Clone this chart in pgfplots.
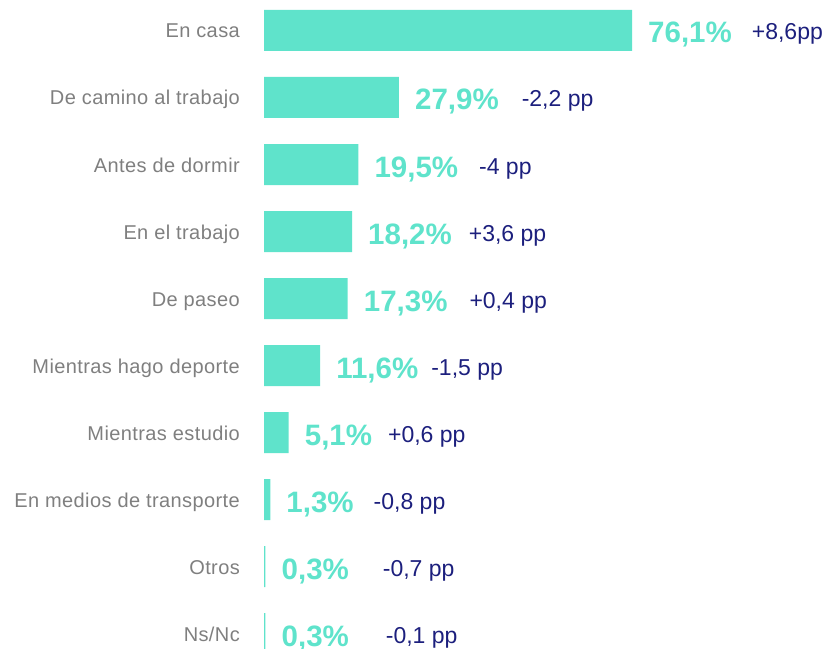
\documentclass[border=0pt]{standalone}
\usepackage{fontspec}
\setmainfont{Liberation Sans}
\usepackage{pgfplots}
\pgfplotsset{compat=1.18}
\usepackage{pgfplotstable}
\definecolor{barc}{HTML}{5FE3CB}
\definecolor{navy}{HTML}{1C1F7D}
\definecolor{lab}{HTML}{7F7F7F}
\protected\def\lbl#1#2#3{{\fontsize{29.5bp}{32bp}\selectfont\bfseries\color{barc}#1\%}\hspace{#3bp}\raisebox{3bp}{\fontsize{23bp}{24bp}\selectfont\color{navy}#2}}
\pgfplotstableread[col sep=semicolon]{
y;x;lab
0;76.1;\lbl{76,1}{+8,6pp}{20}
1;27.9;\lbl{27,9}{-2,2 pp}{23}
2;19.5;\lbl{19,5}{-4 pp}{21}
3;18.2;\lbl{18,2}{+3,6 pp}{17}
4;17.3;\lbl{17,3}{+0,4 pp}{22}
5;11.6;\lbl{11,6}{-1,5 pp}{13}
6;5.1;\lbl{5,1}{+0,6 pp}{16}
7;1.3;\lbl{1,3}{-0,8 pp}{20}
8;0.3;\lbl{0,3}{-0,7 pp}{34}
9;0.3;\lbl{0,3}{-0,1 pp}{37}
}\data
\begin{document}
\begin{tikzpicture}
\useasboundingbox (0,0) rectangle (829bp,649bp);
\begin{axis}[
  at={(264bp,0)}, anchor=south west,
  scale only axis, width=565bp, height=649bp,
  xmin=0, xmax=116.83,
  ymin=-0.455, ymax=9.231, y dir=reverse,
  xbar, bar width=41bp,
  axis line style={draw=none}, tick style={draw=none},
  major tick length=0pt,
  xtick=\empty,
  ytick={0,...,9},
  yticklabels={En casa, De camino al trabajo, Antes de dormir, En el trabajo, De paseo, Mientras hago deporte, Mientras estudio, En medios de transporte, Otros, Ns/Nc},
  yticklabel style={font=\fontsize{20bp}{24bp}\selectfont\addfontfeature{LetterSpace=2}, text=lab, anchor=base east, inner sep=0pt, xshift=-24bp, yshift=-7.5bp},
  clip=false,
  point meta=explicit symbolic,
  nodes near coords={\pgfplotspointmeta},
  every node near coord/.append style={anchor=base west, inner sep=0pt, xshift=16bp, yshift=-12.5bp},
]
\addplot[fill=barc, draw=none] table[x=x, y=y, meta=lab] {\data};
\end{axis}
\end{tikzpicture}
\end{document}
